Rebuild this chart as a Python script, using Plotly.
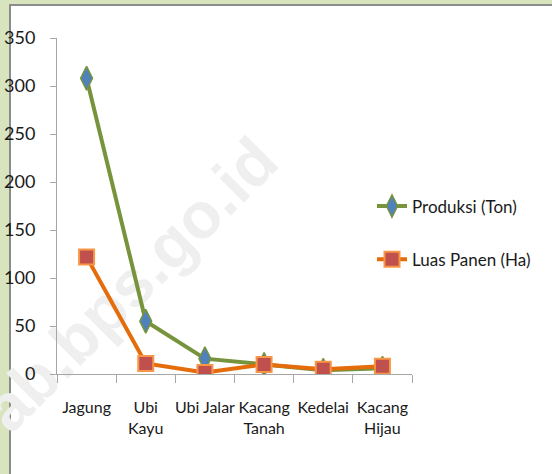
import plotly.graph_objects as go

categories = ["Jagung", "Ubi<br>Kayu", "Ubi Jalar", "Kacang<br>Tanah", "Kedelai", "Kacang<br>Hijau"]
produksi = [308, 55, 16, 10, 4, 6]
luas_panen = [122, 11, 1.5, 10, 5, 8]
y_ticks = [0, 50, 100, 150, 200, 250, 300, 350]

FONT = "Lato, Liberation Sans, sans-serif"
W, H = 552, 474
L, R, T, B = 57, 140, 38, 100
PW, PH = W - L - R, H - T - B

def px2x(px):
    return (px - L) / PW

def py2y(py):
    return (H - B - py) / PH

fig = go.Figure()
fig.add_trace(go.Scatter(
    x=categories, y=produksi, name="Produksi (Ton)", mode="lines+markers",
    line=dict(color="#77933c", width=4),
    marker=dict(symbol="diamond-tall", size=17, color="#4f81bd",
                line=dict(color="#77933c", width=1.5)),
    legendgroup="a",
))
fig.add_trace(go.Scatter(
    x=categories, y=luas_panen, name="Luas Panen (Ha)", mode="lines+markers",
    line=dict(color="#e46c0a", width=4),
    marker=dict(symbol="square", size=15, color="#c0504d",
                line=dict(color="#f79646", width=2)),
    legendgroup="b",
))

shapes = [
    dict(type="rect", xref="paper", yref="paper", layer="below",
         x0=px2x(10), x1=px2x(W + 20), y0=py2y(H + 20), y1=py2y(5),
         fillcolor="white", line=dict(color="#8c8c8c", width=2)),
    dict(type="rect", xref="paper", yref="paper", layer="below",
         x0=px2x(116), x1=px2x(136), y0=py2y(290), y1=py2y(270),
         fillcolor="rgba(0,0,0,0)", line=dict(width=0),
         label=dict(text="<b>ab.bps.go.id</b>", textangle=-45,
                    textposition="middle center",
                    font=dict(family="Liberation Sans, Arial, sans-serif", size=65,
                              color="#efefef"))),
]

fig.update_layout(
    width=W, height=H,
    margin=dict(l=L, r=R, t=T, b=B, pad=0, autoexpand=False),
    paper_bgcolor="#d7e4bd",
    plot_bgcolor="rgba(0,0,0,0)",
    font=dict(family=FONT, size=17, color="#1a1a1a"),
    shapes=shapes,
    showlegend=True,
    legend=dict(x=px2x(372), y=py2y(233), xanchor="left", yanchor="middle",
                bgcolor="rgba(0,0,0,0)", font=dict(size=17),
                traceorder="grouped", tracegroupgap=28),
    xaxis=dict(
        type="category", range=[-0.5, 5.5], tickson="boundaries",
        showline=True, linecolor="#a6a6a6", linewidth=1,
        ticks="outside", ticklen=8, tickcolor="#a6a6a6", tickangle=0,
        showgrid=False, zeroline=False, ticklabelstandoff=19,
        tickfont=dict(size=16), automargin=False,
    ),
    yaxis=dict(
        range=[0, 350], tickvals=y_ticks, showline=True, linecolor="#a6a6a6",
        linewidth=1, ticks="outside", ticklen=6, tickcolor="#a6a6a6",
        showgrid=False, zeroline=False, ticklabelstandoff=11,
        tickfont=dict(size=18), automargin=False,
    ),
)

fig.write_html("out.html", config={"displayModeBar": False},
               post_script="document.body.style.margin='0';document.body.style.padding='0';")
